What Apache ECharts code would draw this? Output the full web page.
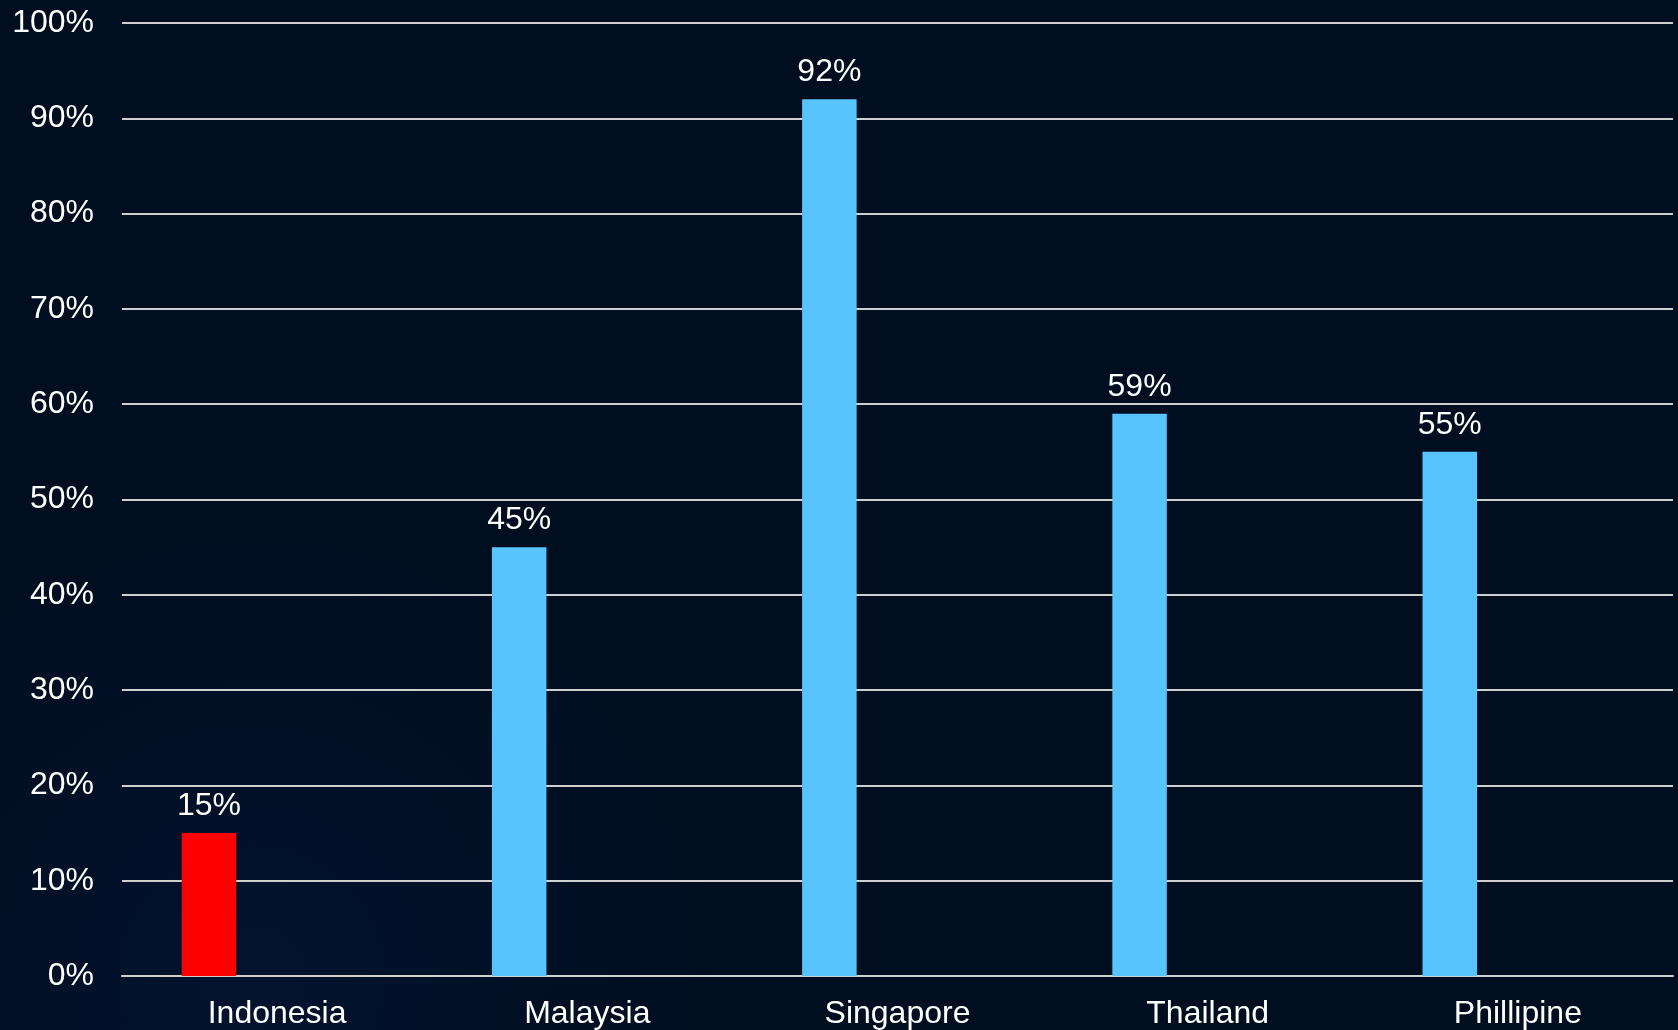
<!DOCTYPE html>
<html>
<head>
<meta charset="utf-8">
<script src="https://cdn.jsdelivr.net/npm/echarts@6/dist/echarts.min.js"></script>
<style>
html,body{margin:0;padding:0;background:#010e20;}
#c{width:1678px;height:1030px;}
</style>
</head>
<body>
<div id="c"></div>
<script>
var categories = ['Indonesia', 'Malaysia', 'Singapore', 'Thailand', 'Phillipine'];
var values = [15, 45, 92, 59, 55];
var barColors = ['#ff0000', '#57c4ff', '#57c4ff', '#57c4ff', '#57c4ff'];
var emptySeries = ['-', '-', '-', '-', '-'];

var chart = echarts.init(document.getElementById('c'));
var font = '"Liberation Sans", Arial, sans-serif';
chart.setOption({
  backgroundColor: {
    type: 'radial', x: 0.15, y: 0.95, r: 0.45,
    colorStops: [{offset: 0, color: '#03132e'}, {offset: 1, color: '#010e20'}]
  },
  animation: false,
  grid: {left: 122, right: 5, top: 23, bottom: 54, containLabel: false},
  xAxis: {
    type: 'category',
    data: categories,
    axisLine: {show: true, lineStyle: {color: '#cfcfcf', width: 2}},
    axisTick: {show: false},
    axisLabel: {color: '#ffffff', fontSize: 32, fontFamily: font, margin: 22}
  },
  yAxis: {
    type: 'value',
    min: 0, max: 100, interval: 10,
    axisLine: {show: false},
    axisTick: {show: false},
    axisLabel: {color: '#ffffff', fontSize: 32, fontFamily: font, margin: 28, formatter: '{value}%'},
    splitLine: {show: true, lineStyle: {color: '#cfcfcf', width: 2}}
  },
  series: [
    {
      type: 'bar',
      data: values.map(function (v, i) { return {value: v, itemStyle: {color: barColors[i]}}; }),
      barWidth: 54.5,
      barGap: '150%',
      label: {
        show: true, position: 'top', distance: 11,
        color: '#ffffff', fontSize: 32, fontFamily: font,
        formatter: '{c}%'
      }
    },
    {
      type: 'bar',
      data: emptySeries,
      barWidth: 54.5
    }
  ]
});
</script>
</body>
</html>
